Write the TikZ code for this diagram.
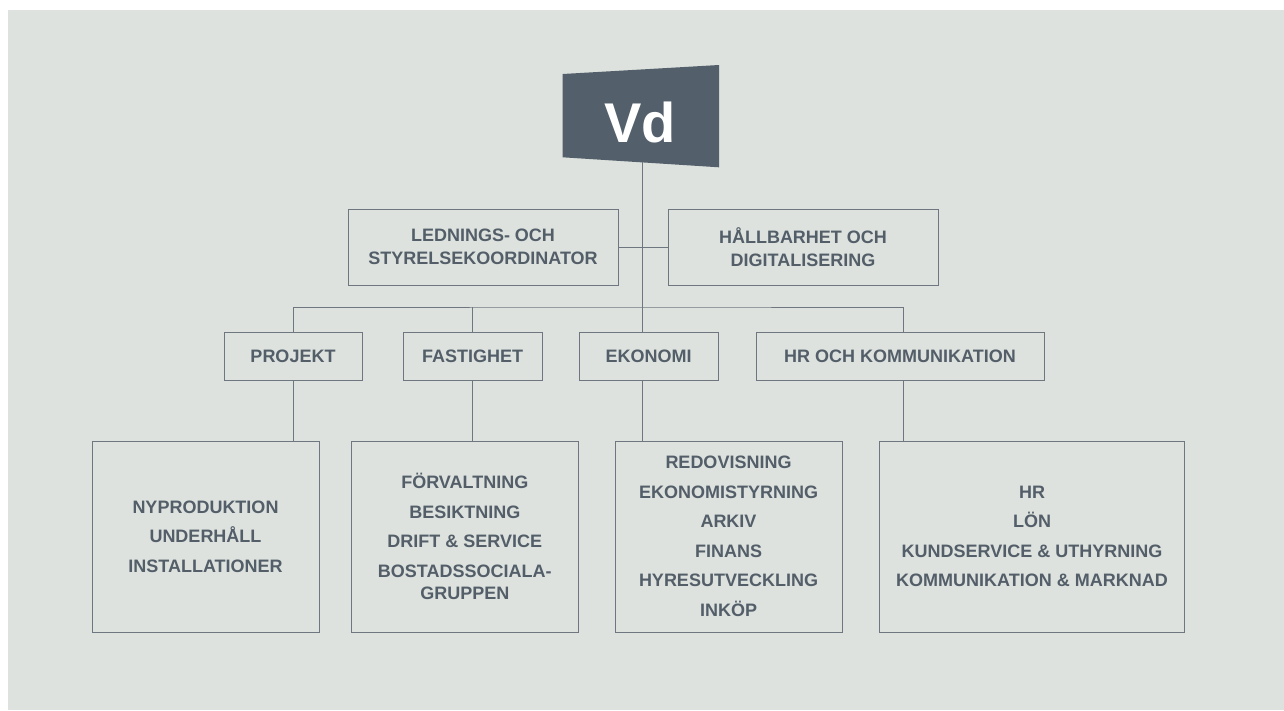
\documentclass[tikz,border=0pt]{standalone}
\usepackage{fontspec}
\setmainfont{Liberation Sans}
\definecolor{bg}{HTML}{DDE2DE}
\definecolor{vdfill}{HTML}{535F6B}
\definecolor{txt}{HTML}{535E69}
\definecolor{ln}{HTML}{6E777F}
\tikzset{
  box/.style={draw=ln, line width=1pt, inner sep=0pt, align=center, text=txt,
    font=\fontsize{18}{23}\selectfont\bfseries},
  unit/.style={box, minimum height=48pt},
  list/.style={box, minimum height=191pt, font=\fontsize{18}{29.5}\selectfont\bfseries},
  link/.style={draw=ln, line width=0.9pt}
}
\begin{document}
\begin{tikzpicture}[x=1pt,y=-1pt]
    \fill[white] (0,0) rectangle (1284,710);
    \fill[bg] (8,10) rectangle (1284,710);%背景
    \useasboundingbox (0,0) rectangle (1284,710);
    \fill[vdfill] (562.7,74) -- (719,65) -- (719,167.3) -- (562.7,157.3) -- cycle;%Vd的斜边框
    \node[text=white, font=\fontsize{56}{56}\selectfont\bfseries] (vd) at (640,122) {Vd};
    \coordinate (vdbot) at (642,162);
    \coordinate (bar) at (642,307);%横线的中点
    \node[box, minimum width=270pt, minimum height=76pt] (led) at (483,247) {LEDNINGS- OCH\\STYRELSEKOORDINATOR};
    \node[box, minimum width=270pt, minimum height=76pt] (hall) at (803,247) {HÅLLBARHET OCH\\DIGITALISERING};
    \node[unit, minimum width=138pt] (proj) at (293,356) {PROJEKT};
    \node[unit, minimum width=139pt] (fast) at (472.5,356) {FASTIGHET};
    \node[unit, minimum width=139pt] (eko) at (648.5,356) {EKONOMI};
    \node[unit, minimum width=288pt] (hr) at (900,356) {HR OCH KOMMUNIKATION};
    \coordinate (hrtop) at ([xshift=3pt]hr.north);
    \coordinate (hrbot) at ([xshift=3pt]hr.south);
    \node[list, minimum width=227pt] (nyp) at (205.5,536.5) {NYPRODUKTION\\UNDERHÅLL\\INSTALLATIONER};
    \node[list, minimum width=227pt] (forv) at (464.8,536.5) {FÖRVALTNING\\BESIKTNING\\DRIFT \& SERVICE\\BOSTADSSOCIALA-\\[-7.5pt]GRUPPEN};
    \node[list, minimum width=227pt] (redo) at (728.5,536.5) {REDOVISNING\\EKONOMISTYRNING\\ARKIV\\FINANS\\HYRESUTVECKLING\\INKÖP};
    \node[list, minimum width=305pt] (hrlist) at (1032,536.5) {HR\\LÖN\\KUNDSERVICE \& UTHYRNING\\KOMMUNIKATION \& MARKNAD};
    \draw[link] (vdbot) -- (bar);
    \draw[link] (led.east) -- (hall.west);
    \draw[link] (proj.north) |- (bar) -| (hrtop);
    \draw[link] (fast.north) -- (fast.north |- bar);
    \draw[link] (bar) -- (bar |- eko.north);
    \draw[link] (proj.south) -- (proj.south |- nyp.north);
    \draw[link] (fast.south) -- (fast.south |- forv.north);
    \draw[link] (eko.south -| bar) -- (bar |- redo.north);
    \draw[link] (hrbot) -- (hrbot |- hrlist.north);
\end{tikzpicture}
\end{document}
